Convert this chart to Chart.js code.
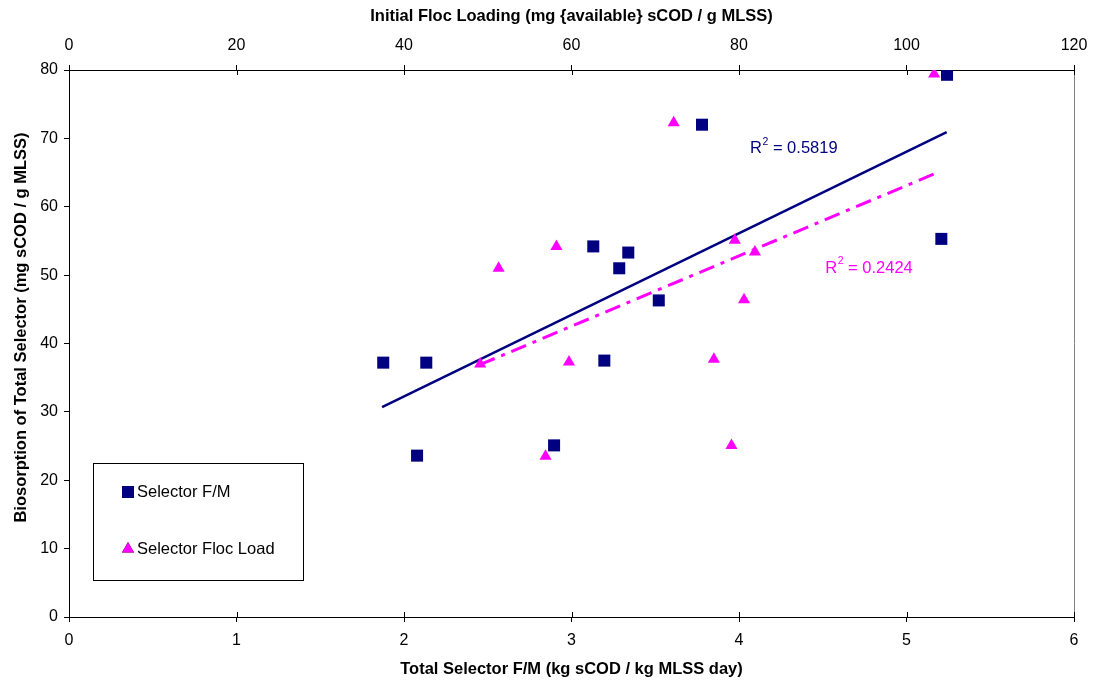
<!DOCTYPE html>
<html>
<head>
<meta charset="utf-8">
<script src="https://cdn.jsdelivr.net/npm/chart.js@4.4.1/dist/chart.umd.min.js"></script>
<style>
  html, body { margin: 0; background: #fff; }
  #wrap { width: 1094px; height: 685px; }
</style>
</head>
<body>
<div id="wrap"><canvas id="biosorptionChart"></canvas></div>
<script>
// Selector F/M (bottom axis) vs biosorption
const fmX = [1.876, 2.133, 2.078, 2.896, 3.130, 3.196, 3.285, 3.339, 3.521, 3.779, 5.208, 5.242];
const fmY = [37.2, 37.2, 23.6, 25.1, 54.2, 37.5, 51.0, 53.3, 46.3, 72.0, 55.3, 79.3];

// Initial floc loading (top axis) vs biosorption
const flocX = [49.1, 51.3, 56.9, 58.2, 59.7, 72.2, 77.0, 79.1, 79.5, 80.6, 81.9, 103.3];
const flocY = [37.0, 51.0, 23.5, 54.2, 37.3, 72.3, 37.7, 25.1, 55.1, 46.4, 53.4, 79.4];

// Linear trendlines (end points)
const fmTrendX = [1.869, 5.240];
const fmTrendY = [30.7, 70.9];
const flocTrendX = [49.07, 103.3];
const flocTrendY = [36.9, 64.8];

const fmR2 = "0.5819";
const flocR2 = "0.2424";

const xTicks = [0, 1, 2, 3, 4, 5, 6];
const x2Ticks = [0, 20, 40, 60, 80, 100, 120];

const yTitle = "Biosorption of Total Selector (mg sCOD / g MLSS)";

const NAVY = "#000080";
const PINK = "#FF00FF";
const FONT = "'Liberation Sans', Arial, sans-serif";

Chart.defaults.font.family = FONT;
Chart.defaults.color = "#000";

function toPoints(xs, ys) {
    return xs.map((x, i) => ({ x: x, y: ys[i] }));
}

function drawR2(ctx, x, y, value, color) {
    ctx.fillStyle = color;
    ctx.textBaseline = "middle";
    ctx.textAlign = "left";
    ctx.font = "16.5px " + FONT;
    ctx.fillText("R", x, y);
    const w = ctx.measureText("R").width;
    ctx.font = "10.5px " + FONT;
    ctx.fillText("2", x + w + 0.5, y - 7);
    const w2 = ctx.measureText("2").width;
    ctx.font = "16.5px " + FONT;
    ctx.fillText(" = " + value, x + w + w2 + 0.5, y);
}

// x axes: fixed height, no extra side padding for edge labels
function fixX(height) {
    return s => {
        s.height = height;
        s.paddingLeft = 0;
        s.paddingRight = 0;
    };
}

// frame, inner tick marks, y title, R² labels and the boxed legend
const decorations = {
    id: "decorations",
    beforeDatasetsDraw(chart) {
        const { ctx, chartArea: a } = chart;
        ctx.save();
        ctx.strokeStyle = "#808080";
        ctx.lineWidth = 1;
        ctx.beginPath();
        ctx.moveTo(a.right + 0.5, a.top);
        ctx.lineTo(a.right + 0.5, a.bottom);
        ctx.stroke();

        ctx.strokeStyle = "#000";
        chart.scales.x.ticks.forEach(t => {
            const px = Math.round(chart.scales.x.getPixelForValue(t.value)) + 0.5;
            ctx.beginPath();
            ctx.moveTo(px, a.bottom);
            ctx.lineTo(px, a.bottom - 5);
            ctx.stroke();
        });
        chart.scales.x2.ticks.forEach(t => {
            const px = Math.round(chart.scales.x2.getPixelForValue(t.value)) + 0.5;
            ctx.beginPath();
            ctx.moveTo(px, a.top);
            ctx.lineTo(px, a.top + 5);
            ctx.stroke();
        });

        // y axis title, a little above the plot centre
        ctx.translate(21, (a.top + a.bottom) / 2 - 16);
        ctx.rotate(-Math.PI / 2);
        ctx.font = "bold 16.5px " + FONT;
        ctx.fillStyle = "#000";
        ctx.textAlign = "center";
        ctx.textBaseline = "middle";
        ctx.fillText(yTitle, 0, 0);
        ctx.restore();
    },
    afterDatasetsDraw(chart) {
        const { ctx, chartArea: a, scales } = chart;
        ctx.save();
        drawR2(ctx, scales.x.getPixelForValue(4.066), scales.y.getPixelForValue(68.5), fmR2, NAVY);
        drawR2(ctx, scales.x.getPixelForValue(4.515), scales.y.getPixelForValue(51.0), flocR2, PINK);

        // legend box
        const bx = a.left + 24, by = a.bottom - 154, bw = 210, bh = 117;
        ctx.fillStyle = "#fff";
        ctx.fillRect(bx, by, bw, bh);
        ctx.strokeStyle = "#000";
        ctx.lineWidth = 1;
        ctx.strokeRect(bx + 0.5, by + 0.5, bw, bh);

        const items = chart.data.datasets.filter(d => d.legend);
        items.forEach((d, i) => {
            const cy = by + 29 + i * 57;
            Chart.helpers.drawPoint(ctx, {
                pointStyle: d.pointStyle,
                radius: d.pointRadius,
                rotation: 0,
                borderWidth: 0
            }, bx + 35, cy);
            ctx.fillStyle = d.backgroundColor;
            ctx.fill();
            ctx.fillStyle = "#000";
            ctx.font = "16.5px " + FONT;
            ctx.textBaseline = "middle";
            ctx.textAlign = "left";
            ctx.fillText(d.label, bx + 44, cy);
        });
        ctx.restore();
    }
};

new Chart(document.getElementById("biosorptionChart"), {
    type: "scatter",
    data: {
        datasets: [
            {
                label: "Selector F/M",
                legend: true,
                data: toPoints(fmX, fmY),
                xAxisID: "x",
                pointStyle: "rect",
                pointRadius: 8.5,
                backgroundColor: NAVY,
                borderColor: NAVY,
                borderWidth: 0
            },
            {
                label: "Selector Floc Load",
                legend: true,
                data: toPoints(flocX, flocY),
                xAxisID: "x2",
                pointStyle: "triangle",
                pointRadius: 7,
                backgroundColor: PINK,
                borderColor: PINK,
                borderWidth: 0
            },
            {
                label: "F/M trend",
                data: toPoints(fmTrendX, fmTrendY),
                xAxisID: "x",
                showLine: true,
                pointRadius: 0,
                borderColor: NAVY,
                borderWidth: 2.5
            },
            {
                label: "Floc load trend",
                data: toPoints(flocTrendX, flocTrendY),
                xAxisID: "x2",
                showLine: true,
                pointRadius: 0,
                borderColor: PINK,
                borderWidth: 3,
                borderDash: [16, 7, 4, 7]
            }
        ]
    },
    plugins: [decorations],
    options: {
        responsive: true,
        maintainAspectRatio: false,
        animation: false,
        layout: { padding: { left: 0, right: 20, top: 0, bottom: 0 } },
        plugins: {
            legend: { display: false },
            tooltip: { enabled: false }
        },
        scales: {
            x: {
                type: "linear",
                position: "bottom",
                min: 0,
                max: 6,
                afterBuildTicks: s => { s.ticks = xTicks.map(v => ({ value: v })); },
                afterFit: fixX(68),
                ticks: { font: { size: 16 }, padding: 9, maxRotation: 0 },
                grid: { drawOnChartArea: false, tickLength: 5, color: "#000" },
                border: { color: "#000", width: 1 },
                title: {
                    display: true,
                    text: "Total Selector F/M (kg sCOD / kg MLSS day)",
                    font: { size: 16.5, weight: "bold" },
                    padding: { top: 0, bottom: 6 }
                }
            },
            x2: {
                type: "linear",
                position: "top",
                min: 0,
                max: 120,
                afterBuildTicks: s => { s.ticks = x2Ticks.map(v => ({ value: v })); },
                afterFit: fixX(70),
                ticks: { font: { size: 16 }, padding: 10, maxRotation: 0 },
                grid: { drawOnChartArea: false, tickLength: 5, color: "#000" },
                border: { color: "#000", width: 1 },
                title: {
                    display: true,
                    text: "Initial Floc Loading (mg {available} sCOD / g MLSS)",
                    font: { size: 16.5, weight: "bold" },
                    padding: { top: 7, bottom: 0 }
                }
            },
            y: {
                min: 0,
                max: 80,
                afterFit: s => { s.width = 69; s.paddingTop = 0; s.paddingBottom = 0; },
                ticks: { stepSize: 10, font: { size: 16 }, padding: 6 },
                grid: { drawOnChartArea: false, tickLength: 5, color: "#000" },
                border: { color: "#000", width: 1 },
                title: { display: false }
            }
        }
    }
});
</script>
</body>
</html>
